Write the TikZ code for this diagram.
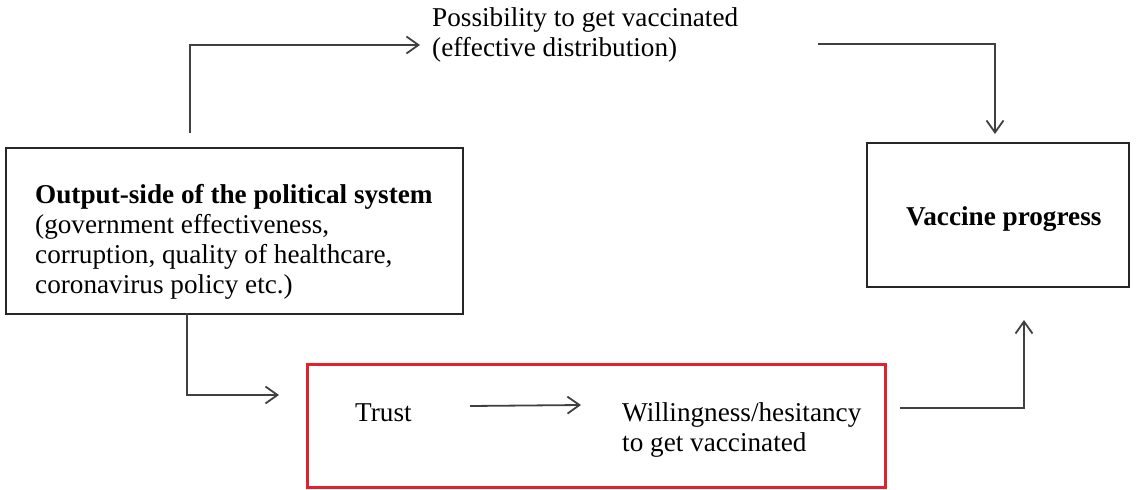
\documentclass[tikz,border=0pt]{standalone}
\usepackage{fontspec}
\setmainfont{Liberation Serif}
\usetikzlibrary{arrows.meta}
\definecolor{linegray}{HTML}{404040}
\definecolor{boxred}{HTML}{E3202B}
\begin{document}
\begin{tikzpicture}[x=1pt,y=-1pt,
  txt/.style={inner sep=0pt, anchor=base west, font=\fontsize{27.2}{30}\selectfont},
  plainbox/.style={draw=black!85, line width=1.8pt, anchor=north west, inner sep=0pt},
  redbox/.style={draw=boxred, line width=3.2pt, anchor=north west, inner sep=0pt},
  arr/.style={draw=linegray, line width=1.8pt, -{Straight Barb[length=12pt,width=17pt]}}]
\useasboundingbox (0,0) rectangle (1138,490);
% boxes
\node[plainbox, minimum width=457pt, minimum height=166pt] (out) at (5,147) {};
\node[plainbox, minimum width=262pt, minimum height=144pt] (vac) at (866,142) {};
\node[redbox, minimum width=578pt, minimum height=123pt] (red) at (306,363) {};
% texts
\node[txt] (poss1) at (432,26) {Possibility to get vaccinated};
\node[txt] (poss2) at (432,56) {(effective distribution)};
\node[txt] (o1) at (35,203) {\bfseries Output-side of the political system};
\node[txt] (o2) at (35,233) {(government effectiveness,};
\node[txt] (o3) at (35,263) {corruption, quality of healthcare,};
\node[txt] (o4) at (35,293) {coronavirus policy etc.)};
\node[txt] (vp) at (906,225) {\bfseries Vaccine progress};
\node[txt] (trust) at (355,421) {Trust};
\node[txt] (w1) at (622,421) {Willingness/hesitancy};
\node[txt] (w2) at (622,451) {to get vaccinated};
% connector end points
\coordinate (a1s) at (190,133);
\coordinate (a1e) at (420,45);
\coordinate (a2s) at (818,44);
\coordinate (a2e) at (995,134);
\coordinate (a3s) at (187,313);
\coordinate (a3e) at (279,395);
\coordinate (a4s) at (470,406);
\coordinate (a4e) at (581,405);
\coordinate (a5s) at (900,408);
\coordinate (a5e) at (1024,320);
% connectors
\draw[arr] (a1s) |- (a1e);
\draw[arr] (a2s) -| (a2e);
\draw[arr] (a3s) |- (a3e);
\draw[arr] (a4s) -- (a4e);
\draw[arr] (a5s) -| (a5e);
\end{tikzpicture}
\end{document}
